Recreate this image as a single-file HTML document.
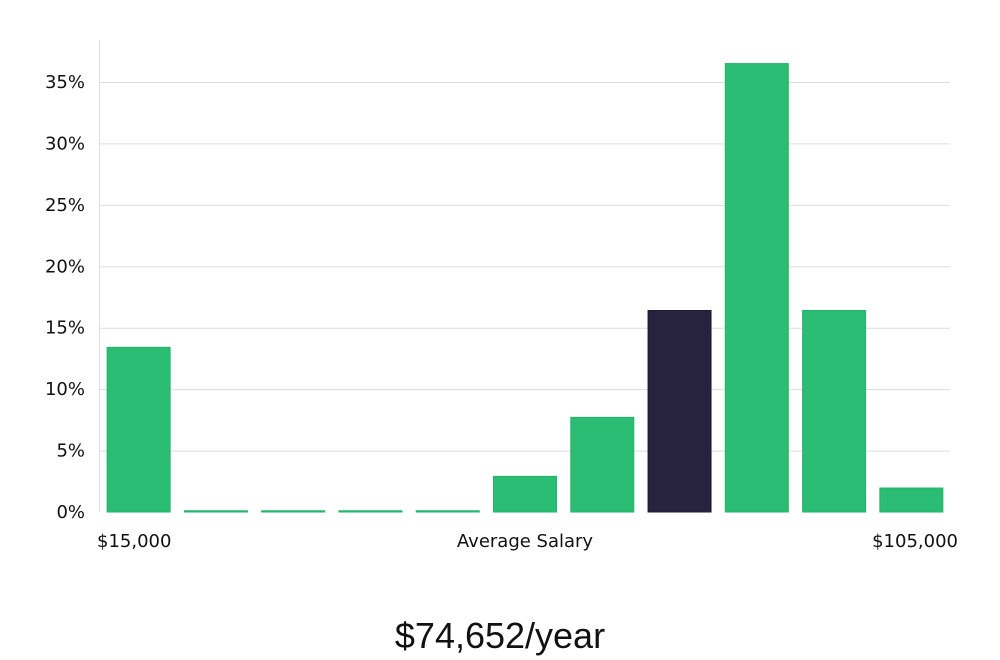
<!DOCTYPE html>
<html><head><meta charset="utf-8"><style>
html,body{margin:0;padding:0;background:#fff;width:1000px;height:660px;overflow:hidden}
text{font-family:"DejaVu Sans","Liberation Sans",sans-serif}
</style></head><body>
<svg id="chart" width="1000" height="660" xmlns="http://www.w3.org/2000/svg">
<g id="grid"></g>
<g id="yticks"></g>
<line x1="99.5" y1="40" x2="99.5" y2="512" stroke="#ddd"/>
<g id="bars"></g>
<text x="97" y="547" font-size="18" fill="#111">$15,000</text>
<text x="525" y="547" font-size="18" fill="#111" text-anchor="middle">Average Salary</text>
<text x="958" y="547" font-size="18" fill="#111" text-anchor="end">$105,000</text>
<text x="500" y="648" font-size="36" fill="#111" text-anchor="middle" style="font-family:'Liberation Sans',sans-serif">$74,652/year</text>
</svg>
<script>
const categories = ["b1","b2","b3","b4","b5","b6","b7","b8","b9","b10","b11"];
const values = [13.4,0.1,0.1,0.1,0.1,2.9,7.7,16.4,36.5,16.4,1.95];
const highlight = [false,false,false,false,false,false,false,true,false,false,false];
const yTicks = [0,5,10,15,20,25,30,35];
const yTickLabels = ["0%","5%","10%","15%","20%","25%","30%","35%"];
const NS="http://www.w3.org/2000/svg";
const x0=100,x1=950,yBase=512,yPer=(512-82)/35;
const y=v=>yBase-v*yPer;
const step=(x1-x0)/categories.length, bw=step*0.815, pad=(step-bw)/2+3;
const grid=document.getElementById('grid'),yt=document.getElementById('yticks'),bars=document.getElementById('bars');
yTicks.forEach((t,i)=>{
  if(t>0){const l=document.createElementNS(NS,'line');
  l.setAttribute('x1',x0);l.setAttribute('x2',x1);l.setAttribute('y1',y(t)+0.5);l.setAttribute('y2',y(t)+0.5);
  l.setAttribute('stroke','#ddd');
  
  
  grid.appendChild(l);}
  const tx=document.createElementNS(NS,'text');
  tx.setAttribute('x',85);tx.setAttribute('y',y(t)+6);tx.setAttribute('text-anchor','end');
  tx.setAttribute('font-size','18');tx.setAttribute('fill','#111');tx.textContent=yTickLabels[i];
  
  
  yt.appendChild(tx);
});
categories.forEach((c,i)=>{
  const r=document.createElementNS(NS,'rect');
  const h=Math.max(values[i]*yPer,1);
  r.setAttribute('x',x0+i*step+pad-3);r.setAttribute('width',bw);
  r.setAttribute('y',yBase-h);r.setAttribute('height',h);
  r.setAttribute('fill',highlight[i]?'#27233f':'#2bbd74');
  r.setAttribute('stroke',highlight[i]?'#1c1830':'#22b36a');r.setAttribute('stroke-width','1');
  
  
  bars.appendChild(r);
});
</script>
</body></html>
